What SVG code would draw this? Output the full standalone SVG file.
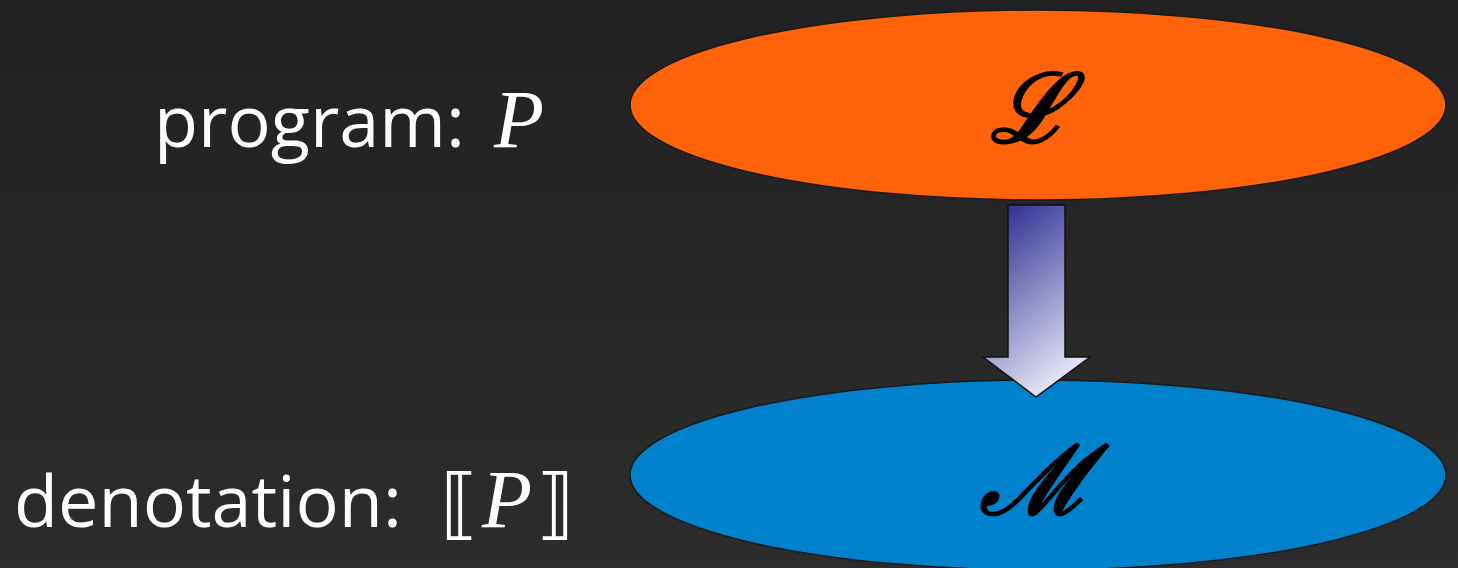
<svg xmlns="http://www.w3.org/2000/svg" width="1458" height="568" viewBox="0 0 1458 568">
<defs>
<linearGradient id="bg" x1="0" y1="0" x2="0" y2="1">
<stop offset="0" stop-color="#212121"/>
<stop offset="1" stop-color="#2c2c2c"/>
</linearGradient>
<linearGradient id="arr" x1="0" y1="0" x2="0.45" y2="1">
<stop offset="0" stop-color="#1c1f8c"/>
<stop offset="0.5" stop-color="#7f80bd"/>
<stop offset="1" stop-color="#e0e0f2"/>
</linearGradient>
<style>
.lbl{font-family:"Open Sans","DejaVu Sans",sans-serif;font-size:72px;fill:#ffffff}
.math{font-family:"Liberation Serif","DejaVu Serif",serif;font-style:italic;font-size:82px;fill:#ffffff}
.br{font-family:"DejaVu Sans",sans-serif;font-style:normal;font-size:78px;fill:#ffffff}
.cal{font-family:"DejaVu Serif",serif;font-style:italic;font-weight:bold;font-size:96px;fill:#000000;text-anchor:middle}
.ell{stroke:#1a1a1a;stroke-width:1.5}
</style>
</defs>
<rect width="1458" height="568" fill="url(#bg)"/>
<g id="nodeL">
<ellipse class="ell" cx="1038" cy="105" rx="408" ry="95" fill="#ff6309"/>
<text class="cal" x="1030" y="142">ℒ</text>
</g>
<g id="nodeM">
<ellipse class="ell" cx="1038" cy="475" rx="408" ry="95" fill="#0081cc"/>
<text class="cal" x="1035" y="514">ℳ</text>
</g>
<g id="connectors">
<path d="M1008 205 H1065 V357 H1090 L1036 397 L983 357 H1008 Z" fill="url(#arr)" stroke="#111" stroke-width="1.5"/>
</g>
<g id="labels">
<text class="lbl" x="154" y="147">program:</text>
<text class="math" x="494" y="147">P</text>
<text class="lbl" x="14" y="527">denotation:</text>
<text class="br" x="440" y="530">⟦</text>
<text class="math" x="482" y="527">P</text>
<text class="br" x="536" y="530">⟧</text>
</g>
</svg>
